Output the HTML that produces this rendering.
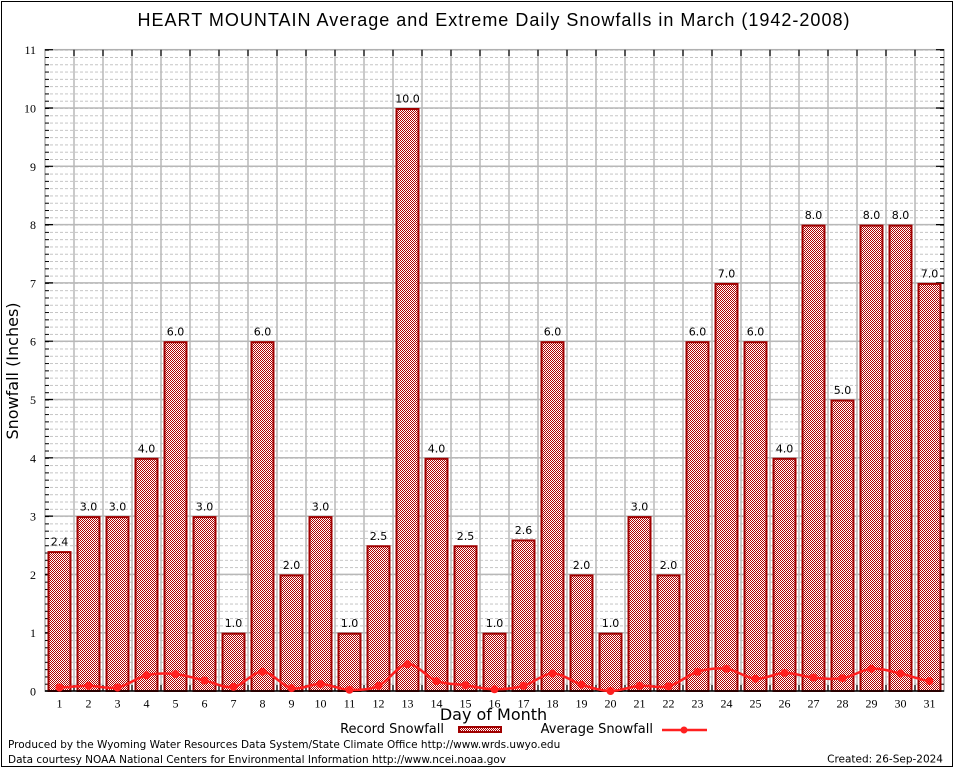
<!DOCTYPE html>
<html><head><meta charset="utf-8"><style>
html,body{margin:0;padding:0;background:#fff;}
svg{display:block;}
.sv{font-family:"Liberation Serif",serif;font-size:12px;fill:#000;}
.dj{font-family:"DejaVu Sans","Liberation Sans",sans-serif;fill:#000;}
</style></head><body>
<svg width="954" height="768" viewBox="0 0 954 768" xmlns="http://www.w3.org/2000/svg">
<defs>
<pattern id="chk" x="0" y="0" width="2" height="2" patternUnits="userSpaceOnUse">
<rect x="0" y="0" width="2" height="2" fill="#fff"/>
<rect x="0" y="0" width="1" height="1" fill="#b00000"/>
<rect x="1" y="1" width="1" height="1" fill="#b00000"/>
</pattern>
<pattern id="mg" x="45" y="49.7" width="899" height="7.2875" patternUnits="userSpaceOnUse">
<line x1="0" y1="0.5" x2="899" y2="0.5" stroke="#c4c4c4" stroke-width="1" stroke-dasharray="3,2"/>
</pattern>
<pattern id="mt" x="0" y="49.7" width="10" height="7.2875" patternUnits="userSpaceOnUse">
<rect x="0" y="0" width="10" height="1" fill="#000"/>
</pattern>
</defs>
<rect x="0" y="0" width="954" height="768" fill="#fff"/>
<rect x="1.5" y="1.5" width="951" height="765" fill="none" stroke="#000" stroke-width="1"/>

<!-- Title -->
<text x="494" y="26" text-anchor="middle" style="font-family:'Liberation Sans',sans-serif;font-size:18px;letter-spacing:1px;fill:#000">HEART MOUNTAIN Average and Extreme Daily Snowfalls in March (1942-2008)</text>

<!-- minor grid -->
<rect x="45" y="49.7" width="899" height="641.3" fill="url(#mg)"/>
<!-- major horizontal grid -->
<path d="M45 632.7H944M45 574.4H944M45 516.1H944M45 457.8H944M45 399.5H944M45 341.2H944M45 282.9H944M45 224.6H944M45 166.3H944M45 108H944" stroke="#b8b8b8" stroke-width="1.5" fill="none"/>
<!-- vertical grid -->
<path d="M74 49.7V691M103 49.7V691M132 49.7V691M161 49.7V691M190 49.7V691M219 49.7V691M248 49.7V691M277 49.7V691M306 49.7V691M335 49.7V691M364 49.7V691M393 49.7V691M422 49.7V691M451 49.7V691M480 49.7V691M509 49.7V691M538 49.7V691M567 49.7V691M596 49.7V691M625 49.7V691M654 49.7V691M683 49.7V691M712 49.7V691M741 49.7V691M770 49.7V691M799 49.7V691M828 49.7V691M857 49.7V691M886 49.7V691M915 49.7V691" stroke="#b8b8b8" stroke-width="1.5" fill="none"/>
<!-- plot border -->
<rect x="45" y="49.7" width="899" height="641.3" fill="none" stroke="#b0b0b0" stroke-width="1.5"/>
<!-- minor ticks left/right -->
<rect x="45" y="49.7" width="4" height="641.3" fill="url(#mt)"/>
<rect x="940" y="49.7" width="4" height="641.3" fill="url(#mt)"/>
<!-- major ticks -->
<path d="M45 691H53M45 632.7H53M45 574.4H53M45 516.1H53M45 457.8H53M45 399.5H53M45 341.2H53M45 282.9H53M45 224.6H53M45 166.3H53M45 108H53M45 49.7H53M936 632.7H944M936 574.4H944M936 516.1H944M936 457.8H944M936 399.5H944M936 341.2H944M936 282.9H944M936 224.6H944M936 166.3H944M936 108H944M936 49.7H944" stroke="#000" stroke-width="1.2"/>
<!-- top/bottom ticks -->
<path d="M74 49.7V56M103 49.7V56M132 49.7V56M161 49.7V56M190 49.7V56M219 49.7V56M248 49.7V56M277 49.7V56M306 49.7V56M335 49.7V56M364 49.7V56M393 49.7V56M422 49.7V56M451 49.7V56M480 49.7V56M509 49.7V56M538 49.7V56M567 49.7V56M596 49.7V56M625 49.7V56M654 49.7V56M683 49.7V56M712 49.7V56M741 49.7V56M770 49.7V56M799 49.7V56M828 49.7V56M857 49.7V56M886 49.7V56M915 49.7V56M74 691V685M103 691V685M132 691V685M161 691V685M190 691V685M219 691V685M248 691V685M277 691V685M306 691V685M335 691V685M364 691V685M393 691V685M422 691V685M451 691V685M480 691V685M509 691V685M538 691V685M567 691V685M596 691V685M625 691V685M654 691V685M683 691V685M712 691V685M741 691V685M770 691V685M799 691V685M828 691V685M857 691V685M886 691V685M915 691V685" stroke="#000" stroke-width="1.2"/>

<!-- bars -->
<g fill="url(#chk)" stroke="#a00000" stroke-width="2">
<rect x="48.5" y="552.1" width="22" height="138.9"/>
<rect x="77.5" y="517.1" width="22" height="173.9"/>
<rect x="106.5" y="517.1" width="22" height="173.9"/>
<rect x="135.5" y="458.8" width="22" height="232.2"/>
<rect x="164.5" y="342.2" width="22" height="348.8"/>
<rect x="193.5" y="517.1" width="22" height="173.9"/>
<rect x="222.5" y="633.7" width="22" height="57.3"/>
<rect x="251.5" y="342.2" width="22" height="348.8"/>
<rect x="280.5" y="575.4" width="22" height="115.6"/>
<rect x="309.5" y="517.1" width="22" height="173.9"/>
<rect x="338.5" y="633.7" width="22" height="57.3"/>
<rect x="367.5" y="546.25" width="22" height="144.75"/>
<rect x="396.5" y="109" width="22" height="582"/>
<rect x="425.5" y="458.8" width="22" height="232.2"/>
<rect x="454.5" y="546.25" width="22" height="144.75"/>
<rect x="483.5" y="633.7" width="22" height="57.3"/>
<rect x="512.5" y="540.4" width="22" height="150.6"/>
<rect x="541.5" y="342.2" width="22" height="348.8"/>
<rect x="570.5" y="575.4" width="22" height="115.6"/>
<rect x="599.5" y="633.7" width="22" height="57.3"/>
<rect x="628.5" y="517.1" width="22" height="173.9"/>
<rect x="657.5" y="575.4" width="22" height="115.6"/>
<rect x="686.5" y="342.2" width="22" height="348.8"/>
<rect x="715.5" y="283.9" width="22" height="407.1"/>
<rect x="744.5" y="342.2" width="22" height="348.8"/>
<rect x="773.5" y="458.8" width="22" height="232.2"/>
<rect x="802.5" y="225.6" width="22" height="465.4"/>
<rect x="831.5" y="400.5" width="22" height="290.5"/>
<rect x="860.5" y="225.6" width="22" height="465.4"/>
<rect x="889.5" y="225.6" width="22" height="465.4"/>
<rect x="918.5" y="283.9" width="22" height="407.1"/>
</g>
<!-- bottom axis line -->
<line x1="45" y1="691" x2="944" y2="691" stroke="#000" stroke-width="1.5"/>

<!-- bar labels -->
<g class="dj" style="font-size:11px" text-anchor="middle">
<text x="59.5" y="545.6">2.4</text>
<text x="88.5" y="510.6">3.0</text>
<text x="117.5" y="510.6">3.0</text>
<text x="146.5" y="452.3">4.0</text>
<text x="175.5" y="335.7">6.0</text>
<text x="204.5" y="510.6">3.0</text>
<text x="233.5" y="627.2">1.0</text>
<text x="262.5" y="335.7">6.0</text>
<text x="291.5" y="568.9">2.0</text>
<text x="320.5" y="510.6">3.0</text>
<text x="349.5" y="627.2">1.0</text>
<text x="378.5" y="539.75">2.5</text>
<text x="407.5" y="102.5">10.0</text>
<text x="436.5" y="452.3">4.0</text>
<text x="465.5" y="539.75">2.5</text>
<text x="494.5" y="627.2">1.0</text>
<text x="523.5" y="533.9">2.6</text>
<text x="552.5" y="335.7">6.0</text>
<text x="581.5" y="568.9">2.0</text>
<text x="610.5" y="627.2">1.0</text>
<text x="639.5" y="510.6">3.0</text>
<text x="668.5" y="568.9">2.0</text>
<text x="697.5" y="335.7">6.0</text>
<text x="726.5" y="277.4">7.0</text>
<text x="755.5" y="335.7">6.0</text>
<text x="784.5" y="452.3">4.0</text>
<text x="813.5" y="219.1">8.0</text>
<text x="842.5" y="394">5.0</text>
<text x="871.5" y="219.1">8.0</text>
<text x="900.5" y="219.1">8.0</text>
<text x="929.5" y="277.4">7.0</text>
</g>

<!-- average line -->
<path d="M59.5 687.5C69.17 687.22 78.83 685.8 88.5 685.8C98.17 685.8 107.83 689.25 117.5 687.5C127.17 685.75 136.83 677.53 146.5 675.3C156.17 673.07 165.83 673.23 175.5 674.1C185.17 674.97 194.83 678.37 204.5 680.5C214.17 682.63 223.83 688.35 233.5 686.9C243.17 685.45 252.83 671.6 262.5 671.8C272.17 672 281.83 686.07 291.5 688.1C301.17 690.13 310.83 683.72 320.5 684C330.17 684.28 339.83 689.5 349.5 689.8C359.17 690.1 368.83 690.07 378.5 685.8C388.17 681.53 397.83 664.98 407.5 664.2C417.17 663.42 426.83 677.6 436.5 681.1C446.17 684.6 455.83 683.83 465.5 685.2C475.17 686.57 484.83 689.2 494.5 689.3C504.17 689.4 513.83 688.43 523.5 685.8C533.17 683.17 542.83 673.7 552.5 673.5C562.17 673.3 571.83 681.68 581.5 684.6C591.17 687.52 600.83 690.8 610.5 691C620.17 691.2 629.83 686.58 639.5 685.8C649.17 685.02 658.83 688.63 668.5 686.3C678.17 683.97 687.83 674.72 697.5 671.8C707.17 668.88 716.83 667.63 726.5 668.8C736.17 669.97 745.83 678.12 755.5 678.8C765.17 679.48 774.83 673.1 784.5 672.9C794.17 672.7 803.83 676.72 813.5 677.6C823.17 678.48 832.83 679.67 842.5 678.2C852.17 676.73 861.83 669.58 871.5 668.8C881.17 668.02 890.83 671.45 900.5 673.5C910.17 675.55 919.83 679.83 929.5 681.1" fill="none" stroke="#ff2020" stroke-width="2.5"/>
<g fill="#ff2020">
<circle cx="59.5" cy="687.5" r="4"/><circle cx="88.5" cy="685.8" r="4"/><circle cx="117.5" cy="687.5" r="4"/><circle cx="146.5" cy="675.3" r="4"/><circle cx="175.5" cy="674.1" r="4"/><circle cx="204.5" cy="680.5" r="4"/><circle cx="233.5" cy="686.9" r="4"/><circle cx="262.5" cy="671.8" r="4"/><circle cx="291.5" cy="688.1" r="4"/><circle cx="320.5" cy="684" r="4"/><circle cx="349.5" cy="689.8" r="4"/><circle cx="378.5" cy="685.8" r="4"/><circle cx="407.5" cy="664.2" r="4"/><circle cx="436.5" cy="681.1" r="4"/><circle cx="465.5" cy="685.2" r="4"/><circle cx="494.5" cy="689.3" r="4"/><circle cx="523.5" cy="685.8" r="4"/><circle cx="552.5" cy="673.5" r="4"/><circle cx="581.5" cy="684.6" r="4"/><circle cx="610.5" cy="691" r="4"/><circle cx="639.5" cy="685.8" r="4"/><circle cx="668.5" cy="686.3" r="4"/><circle cx="697.5" cy="671.8" r="4"/><circle cx="726.5" cy="668.8" r="4"/><circle cx="755.5" cy="678.8" r="4"/><circle cx="784.5" cy="672.9" r="4"/><circle cx="813.5" cy="677.6" r="4"/><circle cx="842.5" cy="678.2" r="4"/><circle cx="871.5" cy="668.8" r="4"/><circle cx="900.5" cy="673.5" r="4"/><circle cx="929.5" cy="681.1" r="4"/>
</g>

<!-- y tick labels -->
<g class="sv" text-anchor="end">
<text x="36" y="695.5">0</text>
<text x="36" y="637.2">1</text>
<text x="36" y="578.9">2</text>
<text x="36" y="520.6">3</text>
<text x="36" y="462.3">4</text>
<text x="36" y="404">5</text>
<text x="36" y="345.7">6</text>
<text x="36" y="287.4">7</text>
<text x="36" y="229.1">8</text>
<text x="36" y="170.8">9</text>
<text x="36" y="112.5">10</text>
<text x="36" y="54.2">11</text>
</g>
<!-- x tick labels -->
<g class="sv" text-anchor="middle">
<text x="59.5" y="707.5">1</text><text x="88.5" y="707.5">2</text><text x="117.5" y="707.5">3</text><text x="146.5" y="707.5">4</text><text x="175.5" y="707.5">5</text><text x="204.5" y="707.5">6</text><text x="233.5" y="707.5">7</text><text x="262.5" y="707.5">8</text><text x="291.5" y="707.5">9</text><text x="320.5" y="707.5">10</text><text x="349.5" y="707.5">11</text><text x="378.5" y="707.5">12</text><text x="407.5" y="707.5">13</text><text x="436.5" y="707.5">14</text><text x="465.5" y="707.5">15</text><text x="494.5" y="707.5">16</text><text x="523.5" y="707.5">17</text><text x="552.5" y="707.5">18</text><text x="581.5" y="707.5">19</text><text x="610.5" y="707.5">20</text><text x="639.5" y="707.5">21</text><text x="668.5" y="707.5">22</text><text x="697.5" y="707.5">23</text><text x="726.5" y="707.5">24</text><text x="755.5" y="707.5">25</text><text x="784.5" y="707.5">26</text><text x="813.5" y="707.5">27</text><text x="842.5" y="707.5">28</text><text x="871.5" y="707.5">29</text><text x="900.5" y="707.5">30</text><text x="929.5" y="707.5">31</text>
</g>

<!-- axis labels -->
<text class="dj" x="493.5" y="720" text-anchor="middle" style="font-size:16px">Day of Month</text>
<text class="dj" transform="translate(18,371) rotate(-90)" text-anchor="middle" style="font-size:16px">Snowfall (Inches)</text>

<!-- legend -->
<text class="dj" x="444" y="733" text-anchor="end" style="font-size:13px">Record Snowfall</text>
<rect x="459" y="727" width="42" height="5" fill="url(#chk)" stroke="#a00000" stroke-width="2"/>
<text class="dj" x="653" y="733" text-anchor="end" style="font-size:13px">Average Snowfall</text>
<line x1="662" y1="730" x2="707" y2="730" stroke="#ff2020" stroke-width="2.5"/>
<circle cx="684" cy="730" r="3.5" fill="#ff2020"/>

<!-- footer -->
<text class="dj" x="8" y="748" style="font-size:10.5px">Produced by the Wyoming Water Resources Data System/State Climate Office http://www.wrds.uwyo.edu</text>
<text class="dj" x="8" y="763" style="font-size:10.5px">Data courtesy NOAA National Centers for Environmental Information http://www.ncei.noaa.gov</text>
<text class="dj" x="943" y="762.5" text-anchor="end" style="font-size:10.5px">Created: 26-Sep-2024</text>
</svg>
</body></html>
